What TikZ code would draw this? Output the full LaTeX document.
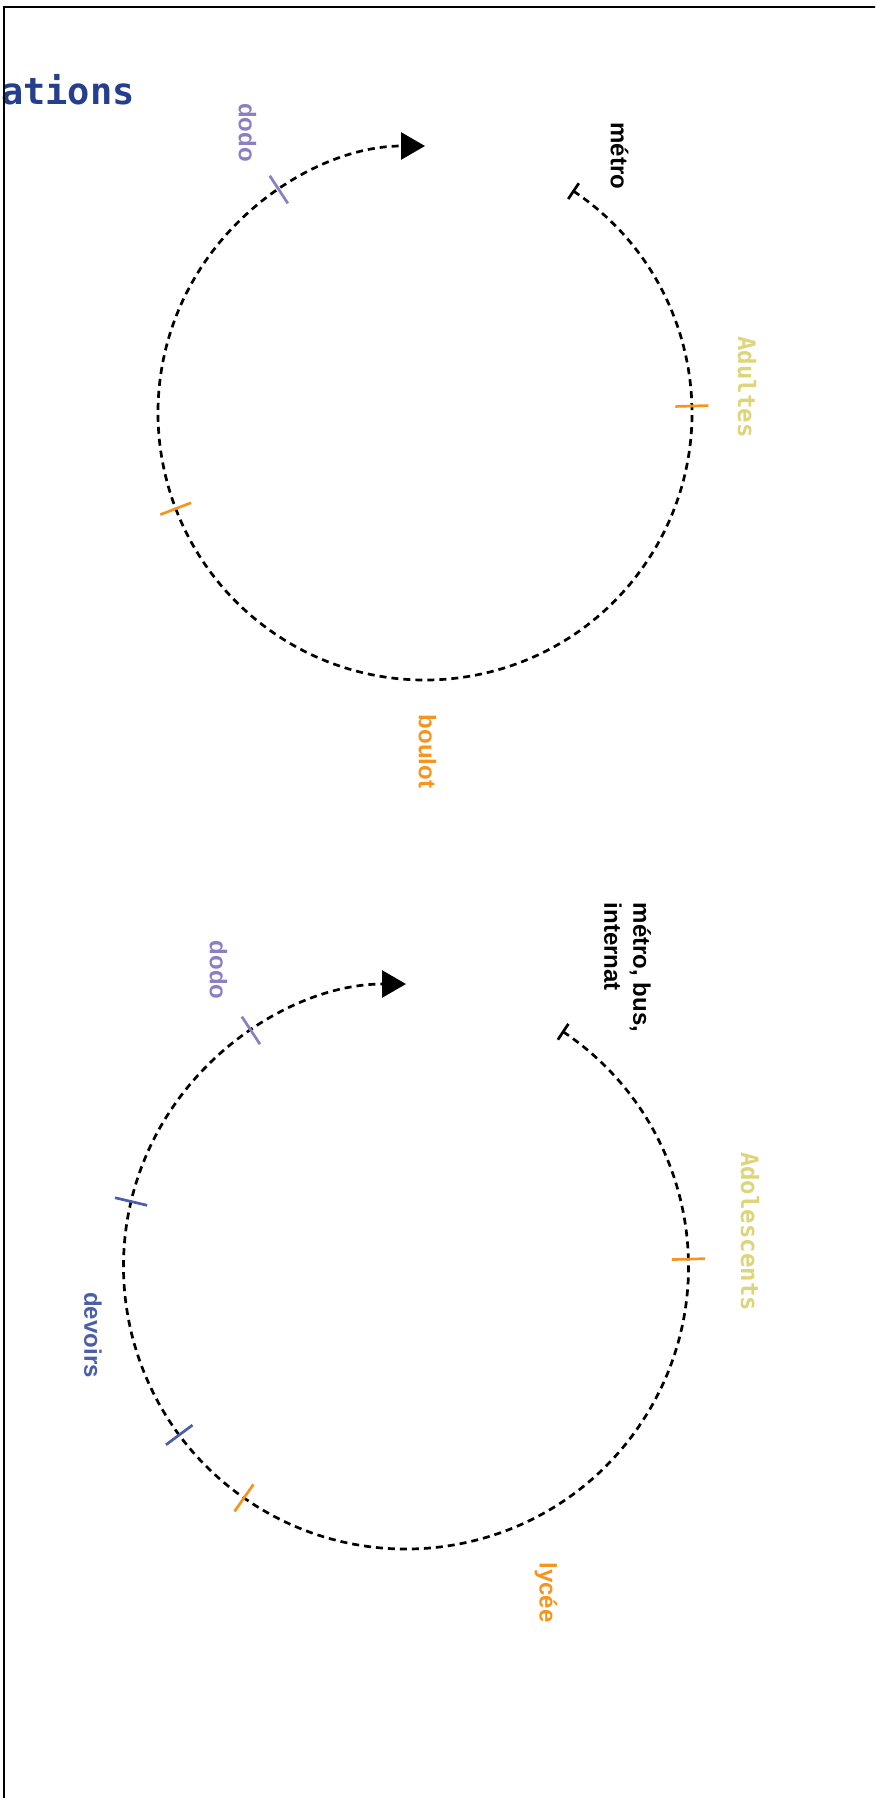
\documentclass[tikz,border=0pt]{standalone}
\usepackage{fontspec}
\setmainfont{Liberation Sans}
\newfontfamily\monofont{DejaVu Sans Mono}
\usetikzlibrary{arrows.meta}
\definecolor{cpurple}{HTML}{8C7FC1}
\definecolor{corange}{HTML}{F7941D}
\definecolor{cyellow}{HTML}{DDD57A}
\definecolor{cblue}{HTML}{4B5EAA}
\definecolor{ctitle}{HTML}{263F8C}
\tikzset{
  lbl/.style={rotate=-90, inner sep=0pt, font=\fontsize{24}{29}\selectfont\bfseries},
  monolbl/.style={rotate=-90, inner sep=0pt, font=\fontsize{24}{29}\selectfont\monofont\bfseries},
  cycle/.style={line width=2.7pt, dash pattern=on 7pt off 5pt, -{Triangle[length=24pt,width=27pt]}},
  tickmark/.style={line width=2.7pt},
}
\begin{document}
\begin{tikzpicture}[x=1pt,y=1pt]
\useasboundingbox (0,0) rectangle (875,-1798);
\clip (0,0) rectangle (875,-1798);
% title (clipped at the left)
\node[anchor=base east, inner sep=0pt, font=\fontsize{37}{44}\selectfont\monofont\bfseries, text=ctitle] (title) at (135,-105) {ations};
% ---------- top cycle ----------
\coordinate (c1) at (425,-413);
\draw[cycle] ([shift={(56.2:267)}]c1) arc[start angle=56.2, end angle=-270, radius=267];
\draw[tickmark, black] ([shift={(56.2:257.5)}]c1) -- ([shift={(56.2:276.5)}]c1);
\draw[tickmark, corange] ([shift={(1.5:250.5)}]c1) -- ([shift={(1.5:283.5)}]c1);
\draw[tickmark, corange] ([shift={(201:250.5)}]c1) -- ([shift={(201:283.5)}]c1);
\draw[tickmark, cpurple] ([shift={(123.2:250.5)}]c1) -- ([shift={(123.2:283.5)}]c1);
\node[lbl, text=cpurple] (dodo1) at (247.5,-132.5) {dodo};
\node[lbl, text=black] (metro1) at (619.5,-156) {métro};
\node[monolbl, text=cyellow] (adultes) at (747,-387) {Adultes};
\node[lbl, text=corange] (boulot) at (427.5,-751.5) {boulot};
% ---------- bottom cycle ----------
\coordinate (c2) at (406,-1266.5);
\draw[cycle] ([shift={(56.2:282.5)}]c2) arc[start angle=56.2, end angle=-270, radius=282.5];
\draw[tickmark, black] ([shift={(56.2:273)}]c2) -- ([shift={(56.2:292)}]c2);
\draw[tickmark, corange] ([shift={(1.5:266)}]c2) -- ([shift={(1.5:299)}]c2);
\draw[tickmark, corange] ([shift={(235:266)}]c2) -- ([shift={(235:299)}]c2);
\draw[tickmark, cblue] ([shift={(216.6:266)}]c2) -- ([shift={(216.6:299)}]c2);
\draw[tickmark, cblue] ([shift={(166.7:266)}]c2) -- ([shift={(166.7:299)}]c2);
\draw[tickmark, cpurple] ([shift={(123.3:266)}]c2) -- ([shift={(123.3:299)}]c2);
\node[lbl, text=cpurple] (dodo2) at (218.5,-970) {dodo};
\node[lbl, text=black, align=left] (metro2) at (627.5,-967.5) {métro, bus,\\internat};
\node[monolbl, text=cyellow] (ado) at (750,-1231.5) {Adolescents};
\node[lbl, text=cblue] (devoirs) at (93,-1335) {devoirs};
\node[lbl, text=corange] (lycee) at (546,-1592.5) {lycée};
% frame
\draw[line width=2pt] (4,-1820) -- (4,-7) -- (900,-7);
\end{tikzpicture}
\end{document}
